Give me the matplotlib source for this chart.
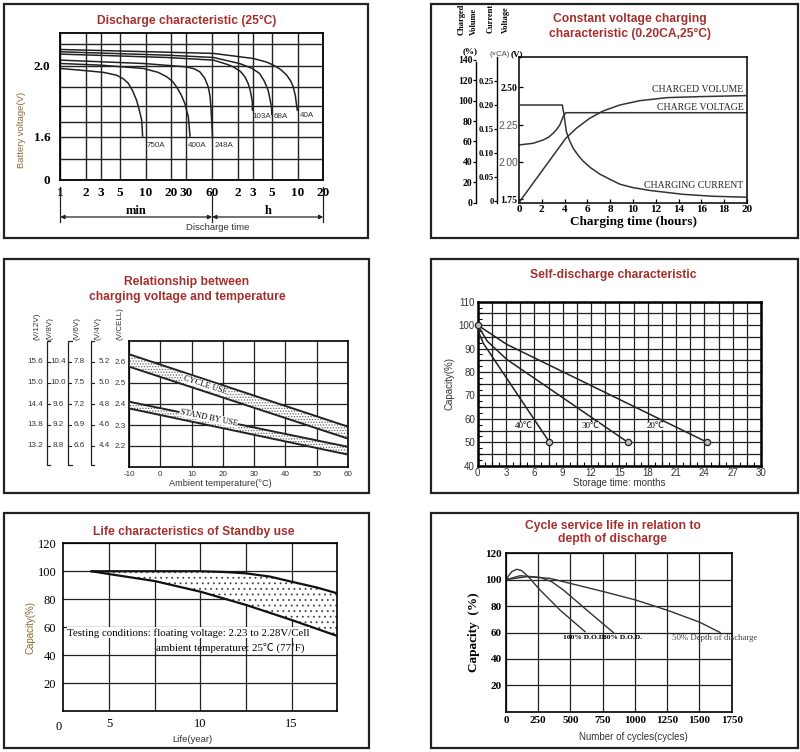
import numpy as np
import matplotlib
matplotlib.use('Agg')
import matplotlib.pyplot as plt
import matplotlib.transforms as mtransforms
from matplotlib.patches import Rectangle
from matplotlib.ticker import NullLocator, NullFormatter

plt.rcParams['hatch.linewidth'] = 0.6
plt.rcParams['axes.unicode_minus'] = False

# ---------------- data ----------------
# Panel 1: discharge curves (time in minutes, volts on the chart's display scale)
dis_labels = ['750A', '400A', '248A', '103A', '68A', '40A']
dis_750_t = [1, 2.04, 3.2, 4.57, 5.5, 6.26, 7.0, 7.8, 8.4, 8.97, 9.2]
dis_750_v = [1.984, 1.971, 1.962, 1.946, 1.925, 1.90, 1.86, 1.806, 1.75, 1.693, 1.603]
dis_400_t = [1, 2.92, 9.38, 14, 17.6, 20.5, 23, 26, 28.7, 31.6, 33]
dis_400_v = [2.012, 2.003, 1.984, 1.962, 1.937, 1.912, 1.88, 1.835, 1.787, 1.71, 1.603]
dis_248_t = [1, 9.4, 30, 37, 43, 49, 54, 56.5, 58, 60.5]
dis_248_v = [2.031, 2.012, 1.993, 1.982, 1.965, 1.93, 1.88, 1.83, 1.768, 1.603]
dis_103_t = [1, 17.6, 62, 90, 106, 128, 145, 158, 167, 177, 177.5]
dis_103_v = [2.065, 2.046, 2.031, 2.007, 1.993, 1.968, 1.937, 1.90, 1.862, 1.80, 1.749]
dis_68_t = [1, 17.6, 62, 125, 175, 215, 245, 271, 288, 298, 299]
dis_68_v = [2.078, 2.059, 2.046, 2.012, 1.985, 1.956, 1.912, 1.862, 1.80, 1.76, 1.725]
dis_40_t = [1, 62, 183, 260, 312, 380, 448, 500, 534, 565, 580, 595]
dis_40_v = [2.091, 2.069, 2.04, 2.02, 2.003, 1.978, 1.946, 1.912, 1.88, 1.83, 1.787, 1.749]
dis_label_t = [10.35, 30.7, 64.5, 179, 317, 632]
dis_label_v = [1.548, 1.548, 1.548, 1.715, 1.715, 1.72]
p1_xticks = [1, 2, 3, 5, 10, 20, 30, 60, 120, 180, 300, 600, 1200]
p1_xticklabels = ['1', '2', '3', '5', '10', '20', '30', '60', '2', '3', '5', '10', '20']
p1_yticks = [1.355, 1.6, 2.0]
p1_yticklabels = ['0', '1.6', '2.0']
p1_ygrid = [1.473, 1.682, 1.772, 1.879, 2.121]

# Panel 2: constant voltage charging
cv_t_cur = [0, 3.8, 3.93, 4.16, 4.45, 4.75, 5.2, 5.63, 6.3, 7.1, 8.0, 8.86, 10.0, 11.5, 14.4, 17, 20]
cv_current = [0.20, 0.20, 0.182, 0.144, 0.125, 0.110, 0.095, 0.083, 0.069, 0.056, 0.045, 0.035, 0.028, 0.022, 0.014, 0.010, 0.008]
cv_t_volt = [0, 1.23, 2.11, 2.6, 2.99, 3.3, 3.58, 3.87, 4.1, 20]
cv_voltage = [2.114, 2.125, 2.147, 2.166, 2.192, 2.218, 2.248, 2.303, 2.33, 2.33]
cv_t_chg = [0, 4.1, 5.04, 6.2, 7.4, 8.86, 10.6, 13, 15.9, 20]
cv_charged = [0, 63, 73, 82.7, 90, 95.8, 100, 103, 104, 105]
cv_charged_ticks = [0, 20, 40, 60, 80, 100, 120, 140]
cv_current_ticks = [0, 0.05, 0.10, 0.15, 0.20, 0.25]
cv_current_labels = ['0', '0.05', '0.10', '0.15', '0.20', '0.25']
cv_voltage_ticks = [1.75, 2.00, 2.25, 2.50]
cv_voltage_labels = ['1.75', '2.00', '2.25', '2.50']

# Panel 3: charging voltage vs temperature (V/cell)
temp_ends = [-10, 60]
cycle_upper = [2.637, 2.292]
cycle_lower = [2.578, 2.235]
standby_upper = [2.411, 2.196]
standby_lower = [2.379, 2.159]
cell_ticks = [2.6, 2.5, 2.4, 2.3, 2.2]
cell_labels = ['2.6', '2.5', '2.4', '2.3', '2.2']
v12_labels = ['15.6', '15.0', '14.4', '13.8', '13.2']
v8_labels = ['10.4', '10.0', '9.6', '9.2', '8.8']
v6_labels = ['7.8', '7.5', '7.2', '6.9', '6.6']
v4_labels = ['5.2', '5.0', '4.8', '4.6', '4.4']
scale_heads = ['(V/12V)', '(V/8V)', '(V/6V)', '(V/4V)', '(V/CELL)']
temp_ticks = [-10, 0, 10, 20, 30, 40, 50, 60]

# Panel 4: self-discharge
sd_40_t = [0, 0.2, 0.6, 7.6]
sd_40_c = [100, 96, 92.2, 50]
sd_30_t = [0, 1.0, 3.07, 15.9]
sd_30_c = [100, 93.2, 85.4, 50]
sd_20_t = [0, 3.07, 24.3]
sd_20_c = [100, 91.8, 50]
sd_marker_t = [0, 7.6, 15.9, 24.3]
sd_marker_c = [100, 50, 50, 50]
sd_labels = ['40℃', '30℃', '20℃']
sd_label_t = [4.9, 11.9, 18.8]
sd_label_c = [57, 57, 57]

# Panel 5: standby life
life_up_yr = [4.05, 6.3, 10.0, 11.3, 12.5, 13.8, 15.0, 16.4, 17.5]
life_up_cap = [100, 100, 100, 99.5, 98.5, 96.2, 92.5, 88.3, 84.2]
life_lo_yr = [4.05, 5.0, 7.5, 10.0, 12.5, 15.0, 17.5]
life_lo_cap = [100, 98, 93, 85.4, 75.9, 65.1, 53.7]

# Panel 6: cycle life
dod100_n = [0, 44, 83, 121, 173, 264, 419, 613]
dod100_c = [100.3, 106, 107.9, 106.9, 102.3, 92.2, 77, 60.6]
dod80_n = [0, 109, 264, 354, 445, 626, 832]
dod80_c = [100, 103, 101.8, 98.5, 92.2, 77, 60]
dod50_n = [0, 160, 341, 548, 755, 1006, 1259, 1504, 1660]
dod50_c = [100, 102.3, 101, 96, 91, 84.6, 76.6, 67.7, 60]

# ---------------- figure ----------------
W, H = 800, 752
fig = plt.figure(figsize=(8, 7.52), dpi=100)
fig.patch.set_facecolor('white')

SANS = 'Liberation Sans'
SERIF = 'Liberation Serif'
CJK = 'Noto Sans CJK SC'
TITLE_C = '#a3302c'
LABEL_C = '#8a6a35'
GRAY = '#333333'


def fx(x):
    return x / W


def fy(y):
    return 1 - y / H


def axpos(x0, y0, x1, y1):
    return fig.add_axes([x0 / W, 1 - y1 / H, (x1 - x0) / W, (y1 - y0) / H])


def frame(x0, y0, x1, y1):
    fig.add_artist(Rectangle((x0 / W, 1 - y1 / H), (x1 - x0) / W, (y1 - y0) / H,
                             transform=fig.transFigure, fill=False, lw=1.6, ec='#222'))


def title(x, y, s, size=8.7):
    fig.text(fx(x), fy(y), s, ha='center', va='center', color=TITLE_C,
             fontfamily=SANS, fontweight='bold', fontsize=size)


frame(4, 4, 368, 238)
frame(431, 4, 798, 238)
frame(4, 259, 369, 493)
frame(431, 259, 798, 493)
frame(4, 513, 369, 748)
frame(431, 513, 798, 748)

# ---------- Panel 1 ----------
ax1 = axpos(60.3, 33, 323.3, 180)
ax1.set_xscale('log')
ax1.set_xlim(1, 1200)
ax1.set_ylim(1.355, 2.184)
ax1.set_xticks(p1_xticks)
ax1.set_xticklabels(p1_xticklabels)
ax1.xaxis.set_minor_locator(NullLocator())
ax1.xaxis.set_minor_formatter(NullFormatter())
ax1.set_yticks(p1_yticks)
ax1.set_yticklabels(p1_yticklabels)
ax1.set_yticks(p1_ygrid, minor=True)
ax1.grid(True, which='both', color='#222', lw=1.0)
ax1.tick_params(which='both', length=0)
ax1.tick_params(axis='x', pad=5)
ax1.tick_params(axis='y', pad=7)
for lab in ax1.get_xticklabels() + ax1.get_yticklabels():
    lab.set_fontfamily(SERIF)
    lab.set_fontweight('bold')
    lab.set_fontsize(9.5)
for sp in ax1.spines.values():
    sp.set_linewidth(1.3)
for t, v in [(dis_750_t, dis_750_v), (dis_400_t, dis_400_v), (dis_248_t, dis_248_v),
             (dis_103_t, dis_103_v), (dis_68_t, dis_68_v), (dis_40_t, dis_40_v)]:
    ax1.plot(t, v, color='#222', lw=1.1)
for lab, t, v in zip(dis_labels, dis_label_t, dis_label_v):
    ax1.text(t, v, lab, fontsize=5.8, fontfamily=SANS, color=GRAY, ha='left', va='center')
tr1 = mtransforms.blended_transform_factory(ax1.transData, ax1.transAxes)
yarrow = (180 - 217) / 147
for xa, xb in [(1, 60), (60, 1200)]:
    ax1.annotate('', xy=(xb, yarrow), xytext=(xa, yarrow), xycoords=tr1, textcoords=tr1,
                 arrowprops=dict(arrowstyle='<|-|>', color='#222', lw=0.9,
                                 shrinkA=0, shrinkB=0, mutation_scale=6))
for xv, ytop in [(1, -0.05), (60, -0.10), (1200, -0.05)]:
    ax1.plot([xv, xv], [ytop, (180 - 222) / 147], transform=tr1, color='#222', lw=0.9, clip_on=False)
ax1.text(7.7, (180 - 211) / 147, 'min', transform=tr1, ha='center', va='center',
         fontfamily=SERIF, fontweight='bold', fontsize=9)
ax1.text(270, (180 - 211) / 147, 'h', transform=tr1, ha='center', va='center',
         fontfamily=SERIF, fontweight='bold', fontsize=9)
fig.text(fx(218), fy(228), 'Discharge time', ha='center', va='center',
         fontfamily=SANS, fontsize=6.8, color=GRAY)
fig.text(fx(22), fy(130), 'Battery voltage(V)', ha='center', va='center', rotation=90,
         fontfamily=SANS, fontsize=6.8, color=LABEL_C)
title(187, 21, 'Discharge characteristic (25°C)')

# ---------- Panel 2 ----------
ax2 = axpos(519, 57, 747, 202.5)
ax2.set_xlim(0, 20)
ax2.set_ylim(1.7286, 2.703)
ax2.set_xticks(np.arange(0, 21, 2))
ax2.set_yticks(cv_voltage_ticks)
ax2.set_yticklabels(cv_voltage_labels)
ax2.tick_params(axis='both', direction='in', length=3, width=0.9, pad=1)
ax2.tick_params(axis='x', pad=2)
for lab in ax2.get_xticklabels():
    lab.set_fontfamily(SERIF)
    lab.set_fontweight('bold')
    lab.set_fontsize(8)
for lab in ax2.get_yticklabels():
    if lab.get_text() in ('2.25', '2.00'):
        lab.set_fontfamily(SANS)
        lab.set_fontsize(7.3)
        lab.set_color('#555')
    else:
        lab.set_fontfamily(SERIF)
        lab.set_fontweight('bold')
        lab.set_fontsize(7)
for sp in ax2.spines.values():
    sp.set_linewidth(1.1)
ax2.plot(cv_t_volt, cv_voltage, color='#333', lw=1.1)

axC = ax2.twinx()
axC.set_ylim(0, 142.9)
axI = ax2.twinx()
axI.set_ylim(-0.003, 0.30)
for a, pos in [(axC, (476 - 519) / 228), (axI, (497 - 519) / 228)]:
    for k in ('top', 'right', 'bottom'):
        a.spines[k].set_visible(False)
    a.spines['left'].set_visible(True)
    a.spines['left'].set_position(('axes', pos))
    a.spines['left'].set_linewidth(1.0)
    a.yaxis.set_ticks_position('left')
    a.yaxis.set_label_position('left')
    a.tick_params(axis='y', direction='out', length=2, width=0.9, pad=0.5)
axC.spines['left'].set_bounds(0, 138)
axC.set_yticks(cv_charged_ticks)
axI.set_yticks(cv_current_ticks)
axI.set_yticklabels(cv_current_labels)
for lab in axC.get_yticklabels():
    lab.set_fontfamily(SERIF)
    lab.set_fontweight('bold')
    lab.set_fontsize(7)
for lab in axI.get_yticklabels():
    lab.set_fontfamily(SERIF)
    lab.set_fontweight('bold')
    lab.set_fontsize(6.2)
axC.plot(cv_t_chg, cv_charged, color='#333', lw=1.1)
axI.plot(cv_t_cur, cv_current, color='#333', lw=1.1)
tr2 = mtransforms.blended_transform_factory(ax2.transData, ax2.transAxes)
for s, yy in [('CHARGED VOLUME', 90), ('CHARGE VOLTAGE', 108), ('CHARGING CURRENT', 186)]:
    ax2.text(19.7, (202.5 - yy) / 145.5, s, transform=tr2,
             ha='right', va='center', fontfamily=SERIF, fontsize=7, color='#222')
ax2.set_xlabel('Charging time (hours)', fontfamily=SERIF, fontweight='bold', fontsize=9.5, labelpad=1)
for s, x, y in [('Charged', 461.5, 19), ('Volume', 473.5, 21), ('Current', 490.5, 18), ('Voltage', 506, 20)]:
    fig.text(fx(x), fy(y), s, rotation=90, ha='center', va='center',
             fontfamily=SERIF, fontweight='bold', fontsize=6)
fig.text(fx(470), fy(51), '(%)', ha='center', va='center', fontfamily=SERIF, fontweight='bold', fontsize=6.5)
fig.text(fx(500), fy(54), '(×CA)', ha='center', va='center', fontfamily=SANS, fontsize=5.5, color='#444')
fig.text(fx(517), fy(54), '(V)', ha='center', va='center', fontfamily=SERIF, fontweight='bold', fontsize=6.5)
title(630, 19, 'Constant voltage charging')
title(630, 34, 'characteristic (0.20CA,25°C)')

# ---------- Panel 3 ----------
ax3 = axpos(129, 341, 348, 467)
ax3.set_xlim(-10, 60)
ax3.set_ylim(2.1, 2.7)
ax3.set_xticks(temp_ticks)
ax3.set_yticks(cell_ticks)
ax3.set_yticklabels(cell_labels)
ax3.grid(True, color='#222', lw=0.9)
ax3.tick_params(length=0, labelsize=5.8, colors=GRAY)
ax3.tick_params(axis='x', pad=3)
ax3.tick_params(axis='y', pad=2)
for lab in ax3.get_xticklabels() + ax3.get_yticklabels():
    lab.set_fontfamily(SANS)
for sp in ax3.spines.values():
    sp.set_linewidth(1.2)
for up, lo in [(cycle_upper, cycle_lower), (standby_upper, standby_lower)]:
    ax3.fill_between(temp_ends, lo, up, facecolor='white', edgecolor='#666', hatch='......', lw=0, zorder=2)
    ax3.plot(temp_ends, up, color='#222', lw=1.4, zorder=3)
    ax3.plot(temp_ends, lo, color='#222', lw=1.4, zorder=3)
ax3.text(14.3, 2.49, 'CYCLE USE', rotation=-18.3, rotation_mode='anchor', ha='center', va='center',
         fontfamily=SERIF, fontsize=6, zorder=4,
         bbox=dict(facecolor='white', edgecolor='none', pad=0.3))
ax3.text(15.5, 2.335, 'STAND BY USE', rotation=-11.7, rotation_mode='anchor', ha='center', va='center',
         fontfamily=SERIF, fontsize=6, zorder=4,
         bbox=dict(facecolor='white', edgecolor='none', pad=0.3))
tr3 = mtransforms.blended_transform_factory(ax3.transAxes, ax3.transData)


def fr3(px):
    return (px - 129) / 219


for bx in (46.7, 68.3, 90.7):
    f = fr3(bx)
    ax3.plot([f + 0.016, f, f, f + 0.016], [2.7, 2.7, 2.108, 2.108], transform=tr3,
             color='#222', lw=0.9, clip_on=False)
    for v in cell_ticks:
        ax3.plot([f, f + 0.014], [v, v], transform=tr3, color='#222', lw=0.8, clip_on=False)
for labs, cx in [(v12_labels, 35), (v8_labels, 58), (v6_labels, 79.5), (v4_labels, 104)]:
    for v, s in zip(cell_ticks, labs):
        ax3.text(fr3(cx), v, s, transform=tr3, ha='center', va='center', fontsize=5.8,
                 fontfamily=SANS, color=GRAY, clip_on=False)
for s, cx in zip(scale_heads, [37, 50, 77, 98, 120]):
    ax3.text(fr3(cx), 2.705, s, transform=tr3, rotation=90, ha='center', va='bottom',
             fontsize=5.8, fontfamily=SANS, color=GRAY, clip_on=False)
fig.text(fx(220), fy(483), 'Ambient temperature(°C)', ha='center', va='center',
         fontfamily=SANS, fontsize=6.6, color=GRAY)
title(187, 282, 'Relationship between')
title(187, 297, 'charging voltage and temperature')

# ---------- Panel 4 ----------
ax4 = axpos(477.7, 301.7, 761, 465.7)
ax4.set_xlim(0, 30)
ax4.set_ylim(40, 110)
ax4.set_xticks(np.arange(0, 31, 3))
ax4.set_yticks(np.arange(40, 111, 10))
ax4.set_xticks(np.arange(0, 30.01, 0.75), minor=True)
ax4.set_yticks(np.arange(40, 110.01, 2.5), minor=True)
for xv in np.arange(0, 30.01, 1.5):
    ax4.axvline(xv, color='#222', lw=0.9, zorder=1)
for yv in np.arange(40, 110.01, 5):
    ax4.axhline(yv, color='#222', lw=0.9, zorder=1)
ax4.tick_params(which='major', length=0, labelsize=7, pad=2, colors=GRAY)
ax4.tick_params(which='minor', direction='in', length=3, width=0.8)
for lab in ax4.get_xticklabels() + ax4.get_yticklabels():
    lab.set_fontfamily(SANS)
for sp in ax4.spines.values():
    sp.set_linewidth(1.8)
for t, c in [(sd_40_t, sd_40_c), (sd_30_t, sd_30_c), (sd_20_t, sd_20_c)]:
    ax4.plot(t, c, color='#222', lw=1.1, zorder=3)
ax4.plot(sd_marker_t, sd_marker_c, 'o', ms=4.5, mfc='#bbb', mec='#222', mew=0.9, zorder=4, clip_on=False)
for s, t, c in zip(sd_labels, sd_label_t, sd_label_c):
    ax4.text(t, c, s, ha='center', va='center', fontfamily=[SERIF, CJK], fontsize=6.5, zorder=5,
             bbox=dict(facecolor='white', edgecolor='none', pad=0.2))
ax4.set_xlabel('Storage time: months', fontfamily=SANS, fontsize=7, color=GRAY, labelpad=0)
ax4.set_ylabel('Capacity(%)', fontfamily=SANS, fontsize=7, color=GRAY, labelpad=3)
title(613, 275, 'Self-discharge characteristic')

# ---------- Panel 5 ----------
ax5 = axpos(63.3, 543.3, 337.3, 711)
ax5.set_xlim(2.5, 17.5)
ax5.set_ylim(0, 120)
ax5.set_xticks([5, 10, 15])
ax5.set_xticks([7.5, 12.5], minor=True)
ax5.set_yticks(np.arange(20, 121, 20))
ax5.grid(True, which='both', color='#222', lw=0.9)
ax5.tick_params(which='both', length=0, labelsize=9, pad=5)
for lab in ax5.get_xticklabels() + ax5.get_yticklabels():
    lab.set_fontfamily(SERIF)
for sp in ax5.spines.values():
    sp.set_linewidth(1.2)
ax5.text(-0.018, -0.06, '0', transform=ax5.transAxes, ha='center', va='top',
         fontfamily=SERIF, fontsize=9)
ax5.fill(np.r_[life_up_yr, life_lo_yr[::-1]], np.r_[life_up_cap, life_lo_cap[::-1]],
         facecolor='white', edgecolor='#444', hatch='...', lw=0, zorder=2)
ax5.plot(life_up_yr, life_up_cap, color='#111', lw=1.6, zorder=3)
ax5.plot(life_lo_yr, life_lo_cap, color='#111', lw=1.6, zorder=3)
ax5.text(2.72, 56, 'Testing conditions: floating voltage: 2.23 to 2.28V/Cell', ha='left', va='center',
         fontfamily=SERIF, fontsize=7.8, zorder=4,
         bbox=dict(facecolor='white', edgecolor='none', pad=0.3))
ax5.text(7.55, 45.6, 'ambient temperature: 25℃ (77˚F)', ha='left', va='center',
         fontfamily=[SERIF, CJK], fontsize=7.8, zorder=4)
fig.text(fx(192), fy(739), 'Life(year)', ha='center', va='center',
         fontfamily=SANS, fontsize=6.8, color=GRAY)
fig.text(fx(30), fy(628), 'Capacity(%)', ha='center', va='center', rotation=90,
         fontfamily=SANS, fontsize=7, color=LABEL_C)
title(194, 532, 'Life characteristics of Standby use')

# ---------- Panel 6 ----------
ax6 = axpos(506, 553.3, 731.7, 711.7)
ax6.set_xlim(0, 1750)
ax6.set_ylim(0, 120)
ax6.set_xticks(np.arange(0, 1751, 250))
ax6.set_yticks(np.arange(20, 121, 20))
ax6.grid(True, color='#222', lw=0.9)
ax6.tick_params(length=0, labelsize=8, pad=3)
for lab in ax6.get_xticklabels() + ax6.get_yticklabels():
    lab.set_fontfamily(SERIF)
    lab.set_fontweight('bold')
for sp in ax6.spines.values():
    sp.set_linewidth(1.2)
for n, c in [(dod100_n, dod100_c), (dod80_n, dod80_c), (dod50_n, dod50_c)]:
    ax6.plot(n, c, color='#333', lw=1.0)
ax6.text(440, 56, '100% D.O.D.', ha='left', va='center', fontfamily=SERIF, fontweight='bold', fontsize=5.4)
ax6.text(755, 56, '80% D.O.D.', ha='left', va='center', fontfamily=SERIF, fontweight='bold', fontsize=5.4)
ax6.text(1285, 56, '50% Depth of discharge', ha='left', va='center', fontfamily=SERIF, fontsize=6.3, color='#444')
ax6.set_ylabel('Capacity  (%)', fontfamily=SERIF, fontweight='bold', fontsize=9.5, labelpad=4)
fig.text(fx(633), fy(737), 'Number of cycles(cycles)', ha='center', va='center',
         fontfamily=SANS, fontsize=7, color=GRAY)
title(613, 526, 'Cycle service life in relation to')
title(613, 539, 'depth of discharge')

fig.savefig('out.png', dpi=100, facecolor='white')
